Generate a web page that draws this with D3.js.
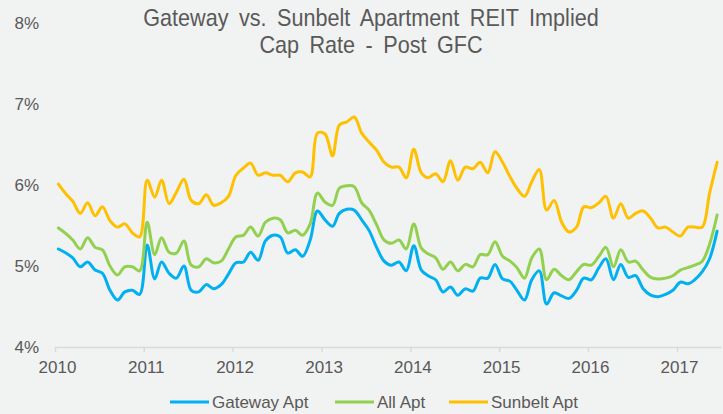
<!DOCTYPE html>
<html>
<head>
<meta charset="utf-8">
<script src="https://cdn.jsdelivr.net/npm/d3@7"></script>
<style>
  body { margin: 0; background: #f1f2f2; }
  svg { display: block; }
  text { font-family: 'Liberation Sans', Arial, sans-serif; fill: #595959; }
</style>
</head>
<body>
<svg width="723" height="414"></svg>
<script>
// monthly, Jan 2010 - Jun 2017
const startMonth = new Date(2010, 0, 15)

const gatewayApt = [
  5.21, 5.16, 5.10, 4.99, 5.05, 4.95, 4.91, 4.70, 4.58, 4.68, 4.70, 4.65,
  5.26, 4.84, 5.05, 4.91, 4.85, 5.00, 4.70, 4.68, 4.77, 4.72, 4.77, 4.90,
  5.04, 5.05, 5.17, 5.07, 5.31, 5.38, 5.36, 5.16, 5.20, 5.12, 5.32, 5.68,
  5.57, 5.49, 5.65, 5.70, 5.69, 5.57, 5.44, 5.23, 5.06, 5.01, 5.05, 4.94,
  5.25, 4.95, 4.88, 4.83, 4.68, 4.74, 4.64, 4.72, 4.69, 4.85, 4.85, 5.02,
  4.84, 4.81, 4.70, 4.58, 4.83, 4.94, 4.53, 4.67, 4.63, 4.60, 4.70, 4.85,
  4.83, 4.98, 5.09, 4.83, 5.02, 4.86, 4.88, 4.72, 4.64, 4.62, 4.65, 4.70,
  4.80, 4.78, 4.83, 4.93, 5.09, 5.43
]

const allApt = [
  5.47, 5.40, 5.32, 5.21, 5.35, 5.23, 5.20, 5.00, 4.89, 4.99, 4.99, 4.94,
  5.54, 5.14, 5.35, 5.17, 5.16, 5.31, 5.01, 4.99, 5.09, 5.04, 5.06, 5.21,
  5.36, 5.38, 5.48, 5.37, 5.54, 5.59, 5.57, 5.41, 5.44, 5.38, 5.52, 5.90,
  5.79, 5.75, 5.96, 5.99, 5.98, 5.78, 5.69, 5.51, 5.32, 5.28, 5.32, 5.21,
  5.52, 5.22, 5.15, 5.10, 4.96, 5.05, 4.94, 5.02, 4.99, 5.14, 5.14, 5.30,
  5.12, 5.06, 4.98, 4.85, 5.10, 5.21, 4.83, 4.96, 4.88, 4.83, 4.93, 5.02,
  5.01, 5.12, 5.23, 4.99, 5.20, 5.05, 5.06, 4.95, 4.86, 4.84, 4.85, 4.88,
  4.95, 4.98, 5.01, 5.06, 5.27, 5.63
]

const sunbeltApt = [
  6.01, 5.89, 5.80, 5.65, 5.78, 5.62, 5.73, 5.56, 5.48, 5.52, 5.41, 5.36,
  6.06, 5.85, 6.06, 5.77, 5.91, 6.07, 5.81, 5.77, 5.88, 5.75, 5.78, 5.86,
  6.12, 6.21, 6.27, 6.12, 6.15, 6.12, 6.12, 6.04, 6.15, 6.16, 6.10, 6.64,
  6.63, 6.36, 6.74, 6.78, 6.84, 6.64, 6.53, 6.43, 6.28, 6.22, 6.22, 6.09,
  6.44, 6.15, 6.09, 6.14, 6.04, 6.30, 6.06, 6.22, 6.20, 6.28, 6.15, 6.41,
  6.28, 6.10, 5.96, 5.86, 6.04, 6.19, 5.69, 5.81, 5.54, 5.42, 5.48, 5.73,
  5.72, 5.78, 5.86, 5.59, 5.77, 5.59, 5.65, 5.68, 5.59, 5.47, 5.48, 5.42,
  5.37, 5.48, 5.48, 5.48, 5.90, 6.28
]

const seriesNames = ['Gateway Apt', 'All Apt', 'Sunbelt Apt']
const seriesColors = ['#00b0f0', '#92d050', '#ffc000']
const yTicks = [4, 5, 6, 7, 8]
const xYears = [2010, 2011, 2012, 2013, 2014, 2015, 2016, 2017]

const svg = d3.select('svg')

const x = d3
  .scaleTime()
  .domain([new Date(2010, 0, 1), new Date(2017, 6, 1)])
  .range([55, 721])

const y = d3
  .scaleLinear()
  .domain([4, 8])
  .range([347, 23])

const monthDate = i =>
  new Date(startMonth.getFullYear(), startMonth.getMonth() + i, 15)

// title - condensed look, squeezed horizontally
const title = svg
  .append('g')
  .attr('transform', 'translate(371,0) scale(0.9,1)')
  .append('text')
  .attr('text-anchor', 'middle')
  .style('font-size', '24px')
  .style('word-spacing', '5px')
title.append('tspan').attr('x', 0).attr('y', 26).text('Gateway vs. Sunbelt Apartment REIT Implied')
title.append('tspan').attr('x', 0).attr('y', 53).text('Cap Rate - Post GFC')

// y labels (no gridlines)
svg
  .append('g')
  .selectAll('text')
  .data(yTicks)
  .enter()
  .append('text')
  .attr('x', 39)
  .attr('y', d => y(d))
  .attr('dy', '0.35em')
  .attr('text-anchor', 'end')
  .style('font-size', '17px')
  .text(d => d + '%')

// x axis
const xAxis = svg
  .append('g')
  .attr('transform', 'translate(0,' + y(4) + ')')
  .call(
    d3
      .axisBottom(x)
      .tickValues(xYears.map(yr => new Date(yr, 0, 1)))
      .tickFormat(d3.timeFormat('%Y'))
      .tickSize(5)
      .tickSizeOuter(0)
  )
xAxis.select('.domain').attr('stroke', '#d9d9d9').attr('stroke-width', 1.5)
xAxis.selectAll('.tick line').attr('stroke', '#d9d9d9').attr('stroke-width', 1.5)
xAxis
  .selectAll('.tick text')
  .attr('y', 14)
  .attr('dx', '2px')
  .style('font-size', '17px')
  .style('font-family', "'Liberation Sans', Arial, sans-serif")
  .attr('fill', '#595959')

// lines
const line = d3
  .line()
  .x((d, i) => x(monthDate(i)))
  .y(d => y(d))
  .curve(d3.curveCatmullRom.alpha(0.5))

const allSeries = [gatewayApt, allApt, sunbeltApt]

svg
  .append('g')
  .selectAll('path')
  .data(allSeries)
  .enter()
  .append('path')
  .attr('fill', 'none')
  .attr('stroke', (d, i) => seriesColors[i])
  .attr('stroke-width', 3)
  .attr('stroke-linejoin', 'round')
  .attr('stroke-linecap', 'round')
  .attr('d', line)

// legend
const legendX = [170, 335, 449]
const legend = svg
  .append('g')
  .selectAll('g')
  .data(seriesNames)
  .enter()
  .append('g')
  .attr('transform', (d, i) => 'translate(' + legendX[i] + ',402)')

legend
  .append('line')
  .attr('x1', 0)
  .attr('x2', 39)
  .attr('stroke', (d, i) => seriesColors[i])
  .attr('stroke-width', 3)

legend
  .append('text')
  .attr('x', 42)
  .attr('y', 6)
  .style('font-size', '17px')
  .text(d => d)
</script>
</body>
</html>
